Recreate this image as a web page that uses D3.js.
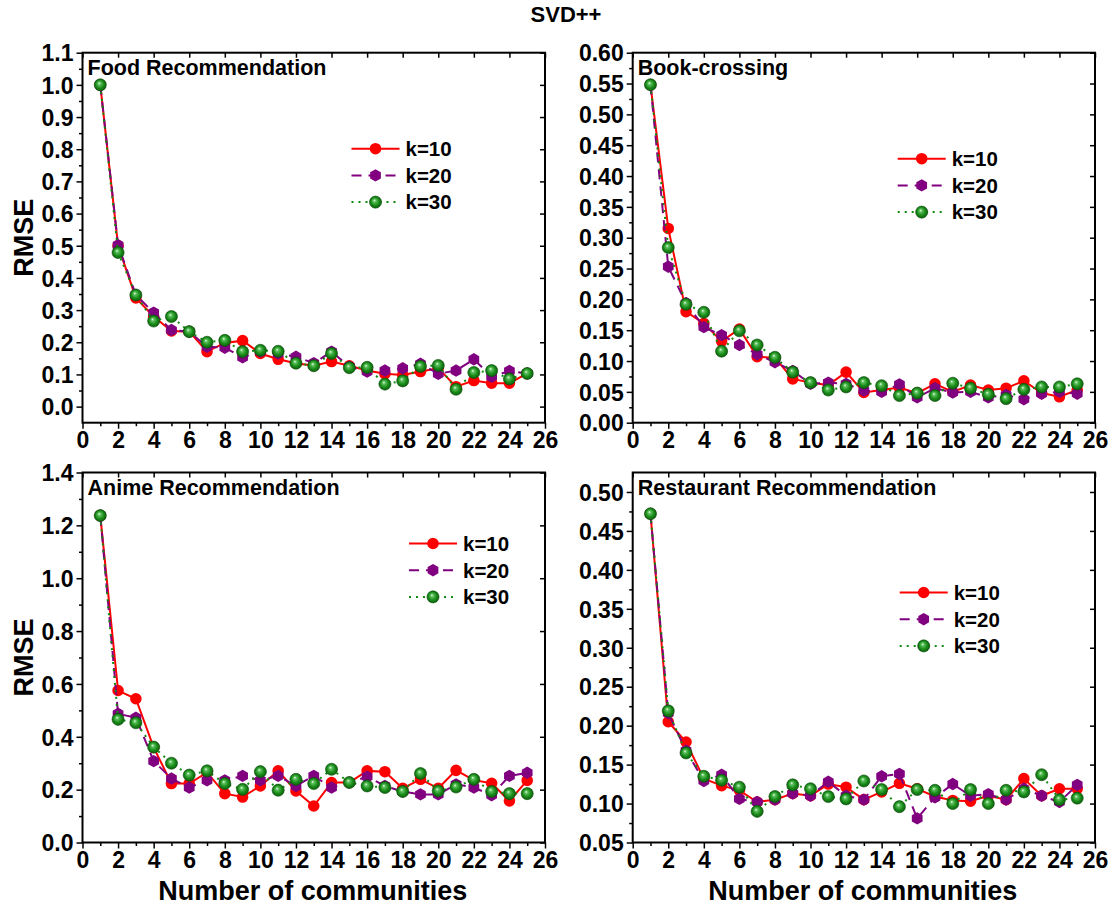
<!DOCTYPE html>
<html>
<head>
<meta charset="utf-8">
<script src="https://cdn.jsdelivr.net/npm/d3@7/dist/d3.min.js"></script>
<style>
  html, body { margin: 0; padding: 0; background: #fff; }
  svg { display: block; font-family: "Liberation Sans", Arial, sans-serif; }
</style>
</head>
<body>
<svg id="chart" width="1113" height="916"></svg>
<script>
// Number of communities on the x axis
const communities = [1, 2, 3, 4, 5, 6, 7, 8, 9, 10, 11, 12, 13, 14, 15, 16, 17, 18, 19, 20, 21, 22, 23, 24, 25];
const seriesNames = ["k=10", "k=20", "k=30"];
const xTickLabels = [0, 2, 4, 6, 8, 10, 12, 14, 16, 18, 20, 22, 24, 26];

// RMSE of SVD++ per dataset and k
const foodK10 = [1.0, 0.50, 0.338, 0.28, 0.235, 0.233, 0.171, 0.198, 0.205, 0.165, 0.147, 0.135, 0.127, 0.140, 0.127, 0.112, 0.102, 0.098, 0.109, 0.119, 0.062, 0.081, 0.073, 0.073, 0.103];
const foodK20 = [1.0, 0.502, 0.347, 0.292, 0.238, 0.233, 0.186, 0.183, 0.153, 0.171, 0.165, 0.155, 0.135, 0.171, 0.124, 0.109, 0.112, 0.119, 0.133, 0.102, 0.112, 0.147, 0.093, 0.111, 0.103];
const foodK30 = [1.0, 0.479, 0.347, 0.266, 0.280, 0.233, 0.200, 0.206, 0.171, 0.175, 0.172, 0.135, 0.127, 0.165, 0.121, 0.122, 0.070, 0.080, 0.125, 0.128, 0.054, 0.106, 0.112, 0.086, 0.103];

const bookK10 = [0.548, 0.315, 0.180, 0.161, 0.132, 0.152, 0.107, 0.105, 0.071, 0.065, 0.061, 0.082, 0.049, 0.053, 0.057, 0.048, 0.063, 0.050, 0.061, 0.053, 0.056, 0.068, 0.048, 0.042, 0.053];
const bookK20 = [0.548, 0.253, 0.194, 0.155, 0.142, 0.126, 0.111, 0.098, 0.084, 0.063, 0.065, 0.063, 0.052, 0.050, 0.062, 0.041, 0.056, 0.049, 0.050, 0.041, 0.045, 0.038, 0.047, 0.050, 0.047];
const bookK30 = [0.548, 0.284, 0.192, 0.179, 0.116, 0.149, 0.126, 0.106, 0.082, 0.065, 0.053, 0.058, 0.065, 0.060, 0.044, 0.048, 0.044, 0.064, 0.056, 0.046, 0.039, 0.054, 0.058, 0.058, 0.063];

const animeK10 = [1.237, 0.575, 0.544, 0.360, 0.223, 0.223, 0.265, 0.185, 0.172, 0.214, 0.271, 0.195, 0.138, 0.227, 0.227, 0.271, 0.268, 0.205, 0.239, 0.205, 0.273, 0.236, 0.224, 0.157, 0.235];
const animeK20 = [1.237, 0.487, 0.472, 0.308, 0.242, 0.208, 0.235, 0.235, 0.252, 0.235, 0.252, 0.214, 0.252, 0.208, 0.227, 0.249, 0.214, 0.193, 0.182, 0.182, 0.220, 0.208, 0.179, 0.252, 0.264];
const animeK30 = [1.237, 0.466, 0.453, 0.361, 0.300, 0.255, 0.271, 0.223, 0.201, 0.268, 0.198, 0.239, 0.223, 0.277, 0.227, 0.214, 0.208, 0.193, 0.261, 0.195, 0.210, 0.239, 0.193, 0.185, 0.185];

const restK10 = [0.472, 0.205, 0.179, 0.132, 0.123, 0.117, 0.102, 0.105, 0.113, 0.110, 0.125, 0.121, 0.105, 0.115, 0.126, 0.119, 0.109, 0.104, 0.103, 0.110, 0.105, 0.132, 0.110, 0.119, 0.119];
const restK20 = [0.472, 0.216, 0.168, 0.129, 0.137, 0.106, 0.102, 0.105, 0.113, 0.110, 0.128, 0.110, 0.105, 0.135, 0.138, 0.081, 0.108, 0.125, 0.110, 0.112, 0.105, 0.119, 0.110, 0.102, 0.124];
const restK30 = [0.472, 0.219, 0.165, 0.135, 0.130, 0.121, 0.090, 0.109, 0.124, 0.119, 0.109, 0.106, 0.129, 0.118, 0.096, 0.118, 0.117, 0.100, 0.118, 0.100, 0.117, 0.115, 0.137, 0.105, 0.107];

// Y tick labels per panel
const foodYTicks = [0.0, 0.1, 0.2, 0.3, 0.4, 0.5, 0.6, 0.7, 0.8, 0.9, 1.0, 1.1];
const bookYTicks = [0.00, 0.05, 0.10, 0.15, 0.20, 0.25, 0.30, 0.35, 0.40, 0.45, 0.50, 0.55, 0.60];
const animeYTicks = [0.0, 0.2, 0.4, 0.6, 0.8, 1.0, 1.2, 1.4];
const restYTicks = [0.05, 0.10, 0.15, 0.20, 0.25, 0.30, 0.35, 0.40, 0.45, 0.50];

const FONT = "'Liberation Sans', Arial, sans-serif";
const svg = d3.select("#chart");

// Marker gradient for the green spheres
const defs = svg.append("defs");
const grad = defs.append("radialGradient").attr("id", "greenBall")
  .attr("cx", "0.5").attr("cy", "0.5").attr("r", "0.55")
  .attr("fx", "0.4").attr("fy", "0.35");
grad.append("stop").attr("offset", "0%").attr("stop-color", "#e8ffe8");
grad.append("stop").attr("offset", "22%").attr("stop-color", "#5cc05c");
grad.append("stop").attr("offset", "60%").attr("stop-color", "#1a8c1a");
grad.append("stop").attr("offset", "100%").attr("stop-color", "#0a560a");

// Hexagon symbol type
const hexagon = {
  draw(context, size) {
    const r = Math.sqrt(size / (1.5 * Math.sqrt(3)));
    for (let i = 0; i < 6; i++) {
      const a = Math.PI / 6 + i * Math.PI / 3;
      const x = r * Math.cos(a), y = r * Math.sin(a);
      if (i === 0) context.moveTo(x, y); else context.lineTo(x, y);
    }
    context.closePath();
  }
};

const styles = [
  { color: "#ff0000", dash: null, symbol: d3.symbolCircle, size: 105, fill: "#ff0000" },
  { color: "#800080", dash: "10,7", symbol: hexagon, size: 100, fill: "#800080" },
  { color: "#0f8a0f", dash: "2,5", symbol: d3.symbolCircle, size: 115, fill: "url(#greenBall)" }
];

const panels = [
  { title: "Food Recommendation", series: [foodK10, foodK20, foodK30], yTicks: foodYTicks,
    yDomain: [-0.05, 1.1], yMinor: 0.05, fmt: ".1f",
    box: { l: 82.5, r: 545, t: 52.7, b: 422.7 }, legend: { x: 269, y: 96 }, yLabel: true },
  { title: "Book-crossing", series: [bookK10, bookK20, bookK30], yTicks: bookYTicks,
    yDomain: [0, 0.6], yMinor: 0.025, fmt: ".2f",
    box: { l: 632.7, r: 1095, t: 52.7, b: 422.7 }, legend: { x: 265, y: 106 }, yLabel: false },
  { title: "Anime Recommendation", series: [animeK10, animeK20, animeK30], yTicks: animeYTicks,
    yDomain: [0, 1.4], yMinor: 0.1, fmt: ".1f",
    box: { l: 82.5, r: 545, t: 472.5, b: 842.5 }, legend: { x: 326.5, y: 71 }, yLabel: true },
  { title: "Restaurant Recommendation", series: [restK10, restK20, restK30], yTicks: restYTicks,
    yDomain: [0.05, 0.525], yMinor: 0.025, fmt: ".2f",
    box: { l: 632.7, r: 1095, t: 472.5, b: 842.5 }, legend: { x: 267, y: 120 }, yLabel: false }
];

// Overall title
svg.append("text").attr("x", 566).attr("y", 22).attr("text-anchor", "middle")
  .style("font-family", FONT).style("font-weight", "bold").style("font-size", "22px")
  .text("SVD++");

panels.forEach(p => {
  const { l, r, t, b } = p.box;
  const x = d3.scaleLinear().domain([0, 26]).range([l, r]);
  const y = d3.scaleLinear().domain(p.yDomain).range([b, t]);
  const g = svg.append("g");

  const minorY = d3.range(p.yDomain[0], p.yDomain[1] + 1e-9, p.yMinor)
    .map(v => +v.toFixed(4))
    .filter(v => !p.yTicks.some(tv => Math.abs(tv - v) < 1e-6) && v > p.yDomain[0] + 1e-6 && v < p.yDomain[1] - 1e-6);
  const minorX = [1, 3, 5, 7, 9, 11, 13, 15, 17, 19, 21, 23, 25];

  const styleAxis = sel => {
    sel.select(".domain").remove();
    sel.selectAll("line").attr("stroke", "#000").attr("stroke-width", 1.5);
    sel.selectAll("text").style("font-family", FONT).style("font-weight", "bold")
      .style("font-size", "23px").attr("fill", "#000");
  };

  // Minor ticks (outward on left and bottom)
  g.append("g").attr("transform", `translate(${l},0)`)
    .call(d3.axisLeft(y).tickValues(minorY).tickSize(3.5).tickFormat(""))
    .call(styleAxis);
  g.append("g").attr("transform", `translate(0,${b})`)
    .call(d3.axisBottom(x).tickValues(minorX).tickSize(3.5).tickFormat(""))
    .call(styleAxis);

  // Major axes
  g.append("g").attr("transform", `translate(${l},0)`)
    .call(d3.axisLeft(y).tickValues(p.yTicks).tickSize(6).tickPadding(3).tickFormat(d3.format(p.fmt)))
    .call(styleAxis)
    .selectAll("text").attr("dy", "0.36em");
  g.append("g").attr("transform", `translate(0,${b})`)
    .call(d3.axisBottom(x).tickValues(xTickLabels).tickSize(6).tickPadding(3).tickFormat(d3.format("d")))
    .call(styleAxis);

  // Mirror ticks pointing inward on top and right
  g.append("g").attr("transform", `translate(0,${t})`)
    .call(d3.axisTop(x).tickValues(xTickLabels).tickSize(-5).tickFormat(""))
    .call(styleAxis);
  g.append("g").attr("transform", `translate(${r},0)`)
    .call(d3.axisRight(y).tickValues(p.yTicks).tickSize(-5).tickFormat(""))
    .call(styleAxis);

  // Frame
  g.append("rect").attr("x", l).attr("y", t).attr("width", r - l).attr("height", b - t)
    .attr("fill", "none").attr("stroke", "#000").attr("stroke-width", 2);

  // Panel title
  g.append("text").attr("x", l + 5).attr("y", t + 22)
    .style("font-family", FONT).style("font-weight", "bold").style("font-size", "21.5px")
    .text(p.title);

  // Series lines and markers
  p.series.forEach((vals, i) => {
    const s = styles[i];
    const pts = communities.map((c, j) => [c, vals[j]]);
    const line = d3.line().x(d => x(d[0])).y(d => y(d[1]));
    g.append("path").datum(pts).attr("d", line)
      .attr("fill", "none").attr("stroke", s.color).attr("stroke-width", 2)
      .attr("stroke-dasharray", s.dash);
    g.append("g").selectAll("path").data(pts).join("path")
      .attr("transform", d => `translate(${x(d[0])},${y(d[1])})`)
      .attr("d", d3.symbol().type(s.symbol).size(s.size))
      .attr("fill", s.fill)
      .attr("stroke", i === 2 ? "#0a4f0a" : "none").attr("stroke-width", 0.6);
  });

  // Legend
  const lg = g.append("g").attr("transform", `translate(${l + p.legend.x},${t + p.legend.y})`);
  seriesNames.forEach((name, i) => {
    const s = styles[i];
    const row = lg.append("g").attr("transform", `translate(0,${i * 26.7})`);
    row.append("line").attr("x1", 0).attr("x2", 48).attr("y1", 0).attr("y2", 0)
      .attr("stroke", s.color).attr("stroke-width", 2).attr("stroke-dasharray", s.dash);
    row.append("path").attr("transform", "translate(24,0)")
      .attr("d", d3.symbol().type(s.symbol).size(s.size))
      .attr("fill", s.fill).attr("stroke", i === 2 ? "#0a4f0a" : "none").attr("stroke-width", 0.6);
    row.append("text").attr("x", 54).attr("y", 0).attr("dy", "0.36em")
      .style("font-family", FONT).style("font-weight", "bold").style("font-size", "20.5px")
      .text(name);
  });

  // Axis titles
  if (p.yLabel) {
    g.append("text")
      .attr("transform", `translate(${l - 49.5},${(t + b) / 2}) rotate(-90)`)
      .attr("text-anchor", "middle")
      .style("font-family", FONT).style("font-weight", "bold").style("font-size", "27px")
      .text("RMSE");
  }
  if (b > 500) {
    g.append("text").attr("x", (l + r) / 2 - 1).attr("y", 900).attr("text-anchor", "middle")
      .style("font-family", FONT).style("font-weight", "bold").style("font-size", "27px")
      .text("Number of communities");
  }
});
</script>
</body>
</html>
